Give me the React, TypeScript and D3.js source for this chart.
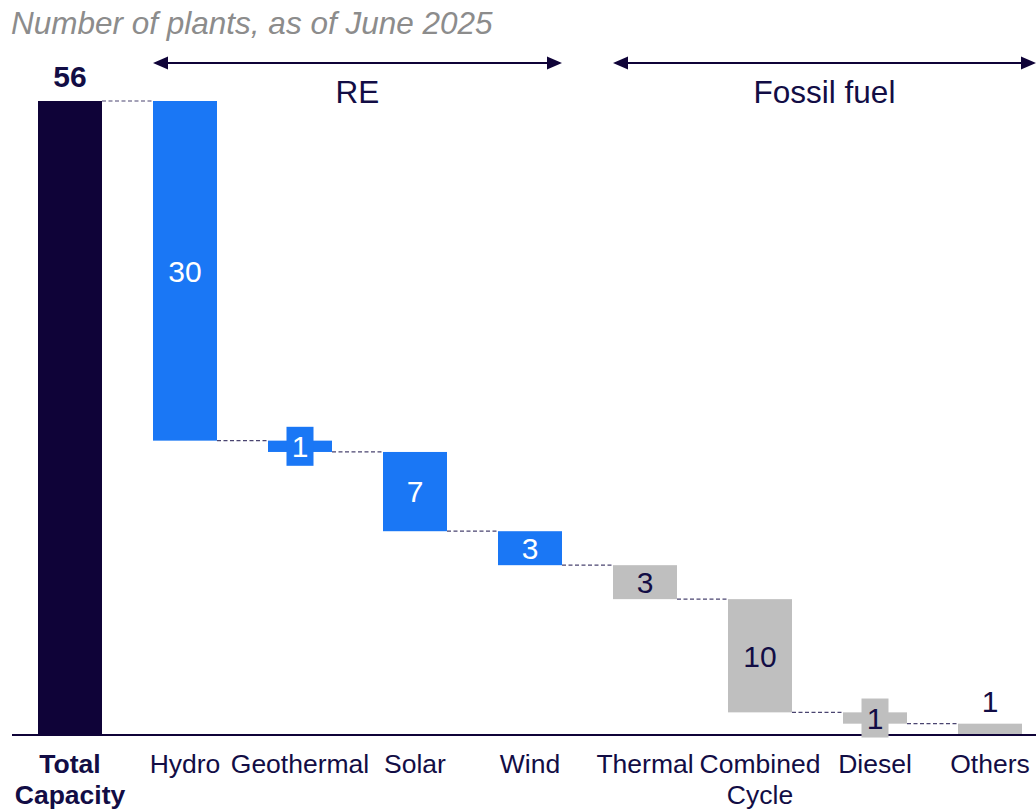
import React from "react";
import * as d3 from "d3";

const categories = ["Total Capacity", "Hydro", "Geothermal", "Solar", "Wind", "Thermal", "Combined Cycle", "Diesel", "Others"];
const values = [56, 30, 1, 7, 3, 3, 10, 1, 1];
const kinds = ["total", "re", "re", "re", "re", "fossil", "fossil", "fossil", "fossil"];
const groups = [
  { label: "RE", from: "Hydro", to: "Wind" },
  { label: "Fossil fuel", from: "Thermal", to: "Others" },
];
const title = "Number of plants, as of June 2025";

const W = 1036;
const H = 810;
const NAVY = "#0f0338";
const TEXT = "#120d45";
const BLUE = "#1a77f5";
const GRAY = "#bfbfbf";
const DASH = "#4a4470";
const FONT = "'Liberation Sans', Arial, sans-serif";

export default function App() {
  const x = d3
    .scaleBand<string>()
    .domain(categories)
    .range([12.5, 1047.5])
    .paddingInner(0.4435)
    .paddingOuter(0.4435 / 2);
  const y = d3.scaleLinear().domain([0, 56]).range([735, 101]);
  const bw = x.bandwidth();

  const bars: { cat: string; v: number; top: number; bottom: number; kind: string }[] = [];
  let level = values[0];
  categories.forEach((c, i) => {
    if (i === 0) {
      bars.push({ cat: c, v: values[0], top: values[0], bottom: 0, kind: kinds[0] });
    } else {
      const top = level;
      const bottom = level - values[i];
      bars.push({ cat: c, v: values[i], top, bottom, kind: kinds[i] });
      level = bottom;
    }
  });

  const color = (k: string) => (k === "total" ? NAVY : k === "re" ? BLUE : GRAY);
  const labelColor = (k: string) => (k === "re" ? "#ffffff" : TEXT);

  const arrowY = 63;
  const head = (tipX: number, dir: number) =>
    `M${tipX},${arrowY} L${tipX + dir * 15},${arrowY - 6.5} L${tipX + dir * 15},${arrowY + 6.5} Z`;

  return (
    <svg
      width={W}
      height={H}
      style={{ position: "absolute", left: 0, top: 0, background: "#fff" }}
      fontFamily={FONT}
    >
      <text x={11} y={34} fontSize={31.5} fontStyle="italic" fill="#8c8c8c">
        {title}
      </text>

      {groups.map((g) => {
        const x0 = x(g.from)!;
        const x1 = Math.min(x(g.to)! + bw + (g.to === "Others" ? 14 : 0), W);
        return (
          <g key={g.label}>
            <line x1={x0 + 10} x2={x1 - 10} y1={arrowY} y2={arrowY} stroke={NAVY} strokeWidth={2} />
            <path d={head(x0, 1)} fill={NAVY} />
            <path d={head(x1, -1)} fill={NAVY} />
            <text x={(x0 + x1) / 2} y={103} fontSize={31.5} textAnchor="middle" fill={TEXT}>
              {g.label}
            </text>
          </g>
        );
      })}

      {bars.slice(0, -1).map((b, i) => {
        const next = bars[i + 1];
        const lvl = i === 0 ? b.top : b.bottom;
        return (
          <line
            key={"c" + i}
            x1={x(b.cat)! + bw}
            x2={x(next.cat)!}
            y1={y(lvl)}
            y2={y(lvl)}
            stroke={DASH}
            strokeWidth={1.2}
            strokeDasharray="4,2.5"
          />
        );
      })}

      {bars.map((b) => (
        <rect
          key={b.cat}
          x={x(b.cat)!}
          y={y(b.top)}
          width={bw}
          height={y(b.bottom) - y(b.top)}
          fill={color(b.kind)}
        />
      ))}

      <line x1={12} x2={W} y1={735} y2={735} stroke={NAVY} strokeWidth={2} />

      {bars.map((b, i) => {
        const cx = x(b.cat)! + bw / 2;
        if (b.kind === "total") {
          return (
            <text key={"l" + i} x={cx} y={87} fontSize={30} fontWeight="bold" textAnchor="middle" fill={TEXT}>
              {b.v}
            </text>
          );
        }
        const cy = (y(b.top) + y(b.bottom)) / 2;
        if (i === bars.length - 1) {
          return (
            <text key={"l" + i} x={cx} y={y(b.top) - 12} fontSize={30} textAnchor="middle" fill={TEXT}>
              {b.v}
            </text>
          );
        }
        const small = y(b.bottom) - y(b.top) < 30;
        return (
          <g key={"l" + i}>
            {small && <rect x={cx - 13.5} y={cy - 19.5} width={27} height={39} fill={color(b.kind)} />}
            <text x={cx} y={cy} dy="0.36em" fontSize={30} textAnchor="middle" fill={labelColor(b.kind)}>
              {b.v}
            </text>
          </g>
        );
      })}

      {categories.map((c, i) => {
        const cx = x(c)! + bw / 2;
        const bold = i === 0;
        const lines = c === "Total Capacity" ? ["Total", "Capacity"] : c === "Combined Cycle" ? ["Combined", "Cycle"] : [c];
        return (
          <text key={"t" + c} x={cx} y={773} fontSize={26.5} fontWeight={bold ? "bold" : "normal"} textAnchor="middle" fill={TEXT}>
            {lines.map((ln, j) => (
              <tspan key={j} x={cx} dy={j === 0 ? 0 : 31}>
                {ln}
              </tspan>
            ))}
          </text>
        );
      })}
    </svg>
  );
}
